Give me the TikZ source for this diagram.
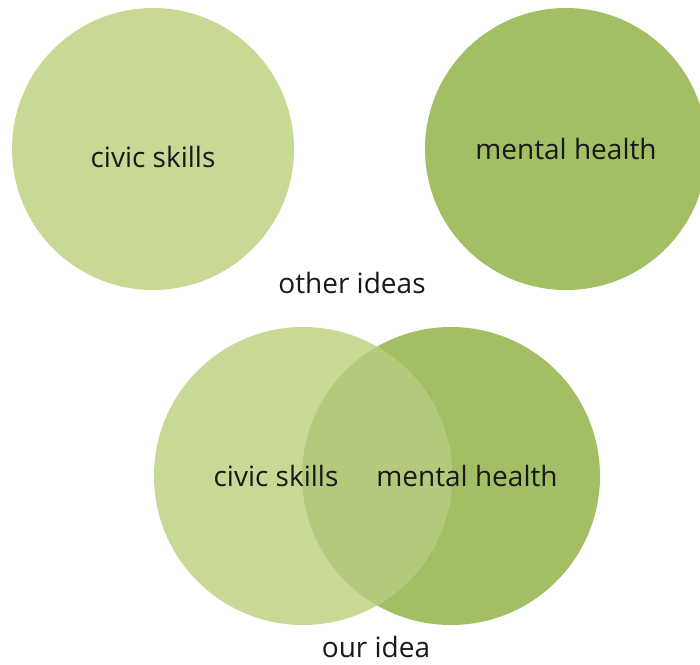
\documentclass[tikz,border=0pt]{standalone}
\usepackage{fontspec}
\setmainfont{Open Sans}
\definecolor{lightgreen}{HTML}{C8D996}
\definecolor{darkgreen}{HTML}{A2BF64}
\definecolor{midgreen}{HTML}{B3CA7C}
\begin{document}
\begin{tikzpicture}[x=1pt,y=-1pt,
  lbl/.style={anchor=base,inner sep=0pt,font=\fontsize{28}{32}\selectfont,text=black!90}]
\useasboundingbox (0,0) rectangle (700,664);
\clip (0,0) rectangle (700,664);
% top circles
\fill[lightgreen] (153,149) circle[radius=141];
\fill[darkgreen] (566,149) circle[radius=141];
% venn
\fill[darkgreen] (451,476) circle[radius=149];
\fill[lightgreen] (303,476) circle[radius=149];
\begin{scope}
  \clip (451,476) circle[radius=149];
  \fill[midgreen] (303,476) circle[radius=149];
\end{scope}
\node[lbl] (cs1) at (153,167) {civic skills};
\node[lbl] (mh1) at (566,159) {mental health};
\node[lbl] (oi) at (352,293) {other ideas};
\node[lbl] (cs2) at (276,486) {civic skills};
\node[lbl] (mh2) at (467,486) {mental health};
\node[lbl] (ou) at (376,657) {our idea};
\end{tikzpicture}
\end{document}
